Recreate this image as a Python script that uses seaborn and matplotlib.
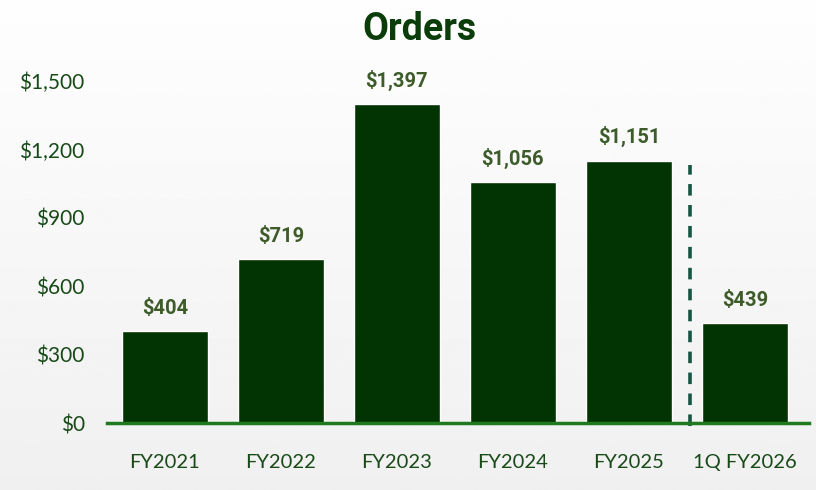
import numpy as np
import pandas as pd
import matplotlib.pyplot as plt
import seaborn as sns

# data
periods = ["FY2021", "FY2022", "FY2023", "FY2024", "FY2025", "1Q FY2026"]
orders = [404, 719, 1397, 1056, 1151, 439]
yticks = [0, 300, 600, 900, 1200, 1500]

bar_color = "#023302"
title_color = "#0b3d0b"
label_color = "#3d5c2a"
tick_color = "#184a18"

sns.set_theme(style="white")
plt.rcParams["font.family"] = ["Lato", "DejaVu Sans"]

df = pd.DataFrame({"period": periods, "orders": orders})

fig = plt.figure(figsize=(8.16, 4.9), dpi=100)

# soft grey gradient behind everything
bg = fig.add_axes([0, 0, 1, 1], zorder=-1)
grad = np.linspace(0.995, 0.94, 256).reshape(-1, 1)
bg.imshow(grad, aspect="auto", cmap="gray", vmin=0, vmax=1, extent=[0, 1, 0, 1])
bg.axis("off")

ax = fig.add_axes([0.131, 0.1367, 0.86, 0.698])
ax.patch.set_alpha(0)
sns.barplot(data=df, x="period", y="orders", color=bar_color, width=0.74,
            saturation=1, ax=ax)

ax.set_ylim(0, 1500)
ax.set_xlim(-0.5, 5.55)
ax.set_yticks(yticks)
ax.set_yticklabels([f"${v:,}" for v in yticks])
ax.set_xlabel("")
ax.set_ylabel("")
ax.tick_params(axis="y", length=0, labelsize=15, labelcolor=tick_color, pad=16)
ax.tick_params(axis="x", length=0, labelsize=14.5, labelcolor=tick_color, pad=22)

for s in ["top", "right", "left"]:
    ax.spines[s].set_visible(False)
ax.spines["bottom"].set_color("#1f7a1f")
ax.spines["bottom"].set_linewidth(2.5)

# value labels
for i, v in enumerate(orders):
    ax.text(i, v + 58, f"${v:,}", ha="center", va="bottom", fontsize=14.5,
            fontweight="bold", color=label_color, family="Roboto", clip_on=False)

# separator between annual and quarterly figures
ax.plot([4.53, 4.53], [-15, 1130], color="#165443", lw=2.6,
        ls=(0, (3.2, 2.6)), clip_on=False)

fig.text(0.514, 0.94, "Orders", ha="center", va="center", fontsize=27,
         fontweight="bold", color=title_color, family="Roboto")

fig.savefig("out.png", dpi=100)
